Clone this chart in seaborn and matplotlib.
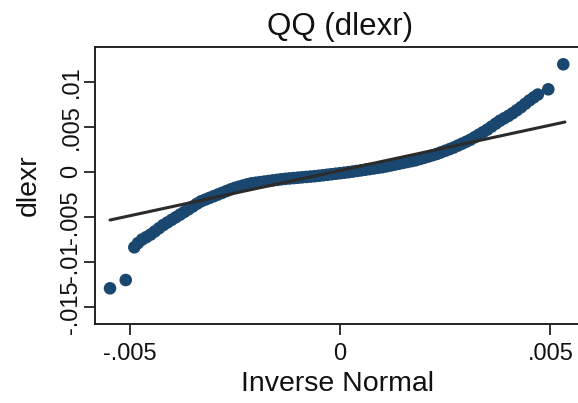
import numpy as np
import pandas as pd
import matplotlib
matplotlib.use("Agg")
import matplotlib.pyplot as plt
import seaborn as sns

# Theoretical (inverse normal) quantiles and sample quantiles of dlexr
inv_normal = [-0.005463, -0.005090, -0.004886, -0.0048, -0.0047, -0.0046, -0.0045, -0.0044,
              -0.0043, -0.0042, -0.0041, -0.0040, -0.0039, -0.0038, -0.0037, -0.0036,
              -0.0035, -0.0034, -0.0033, -0.0032, -0.0031, -0.0030, -0.0029, -0.0028,
              -0.0027, -0.0026, -0.0025, -0.0024, -0.0023, -0.0022, -0.0021, -0.0020,
              -0.0019, -0.0018, -0.0017, -0.0016, -0.0015, -0.0014, -0.0013, -0.0012,
              -0.0011, -0.0010, -0.0009, -0.0008, -0.0007, -0.0006, -0.0005, -0.0004,
              -0.0003, -0.0002, -0.0001, 0.0000, 0.0001, 0.0002, 0.0003, 0.0004,
              0.0005, 0.0006, 0.0007, 0.0008, 0.0009, 0.0010, 0.0011, 0.0012,
              0.0013, 0.0014, 0.0015, 0.0016, 0.0017, 0.0018, 0.0019, 0.0020,
              0.0021, 0.0022, 0.0023, 0.0024, 0.0025, 0.0026, 0.0027, 0.0028,
              0.0029, 0.0030, 0.0031, 0.0032, 0.0033, 0.0034, 0.0035, 0.0036,
              0.0037, 0.0038, 0.0039, 0.0040, 0.0041, 0.0042, 0.0043, 0.0044,
              0.0045, 0.0046, 0.0047, 0.004948, 0.005304]
dlexr = [-0.012956, -0.012033, -0.008400, -0.007933, -0.007531, -0.007265, -0.006987, -0.006636,
         -0.006284, -0.005933, -0.005641, -0.005351, -0.005061, -0.004767, -0.004472, -0.004177,
         -0.003873, -0.003564, -0.003286, -0.003098, -0.002910, -0.002722, -0.002534, -0.002346,
         -0.002157, -0.001969, -0.001798, -0.001664, -0.001529, -0.001394, -0.001287, -0.001224,
         -0.001161, -0.001097, -0.001034, -0.000971, -0.000908, -0.000845, -0.000791, -0.000749,
         -0.000707, -0.000665, -0.000623, -0.000581, -0.000540, -0.000498, -0.000448, -0.000392,
         -0.000336, -0.000279, -0.000223, -0.000167, -0.000111, -0.000054, 0.000011, 0.000081,
         0.000151, 0.000221, 0.000291, 0.000361, 0.000432, 0.000502, 0.000592, 0.000690,
         0.000788, 0.000886, 0.000984, 0.001082, 0.001180, 0.001278, 0.001410, 0.001550,
         0.001690, 0.001831, 0.001972, 0.002150, 0.002328, 0.002505, 0.002686, 0.002902,
         0.003117, 0.003333, 0.003556, 0.003835, 0.004115, 0.004395, 0.004682, 0.005010,
         0.005339, 0.005667, 0.005933, 0.006199, 0.006503, 0.006830, 0.007168, 0.007543,
         0.007918, 0.008247, 0.008570, 0.009156, 0.011933]

# Reference (normal) line endpoints
line_x = [-0.005463, 0.005344]
line_y = [-0.005367, 0.005522]

xtick_vals = [-0.005, 0.0, 0.005]
xtick_labels = ["-.005", "0", ".005"]
ytick_vals = [-0.015, -0.01, -0.005, 0.0, 0.005, 0.01]
ytick_labels = ["-.015", "-.01", "-.005", "0", ".005", ".01"]

sns.set_theme(style="white")
plt.rcParams["font.family"] = ["Liberation Sans", "DejaVu Sans"]

df = pd.DataFrame({"inv_normal": inv_normal, "dlexr": dlexr})
df_line = pd.DataFrame({"x": line_x, "y": line_y})

fig = plt.figure(figsize=(5.78, 4.03), dpi=100)
ax = fig.add_axes([95 / 578, 79 / 403, 490 / 578, 277 / 403])

sns.scatterplot(data=df, x="inv_normal", y="dlexr", color="#1a476f", s=82,
                edgecolor="none", linewidth=0, ax=ax, zorder=2)
sns.lineplot(data=df_line, x="x", y="y", color="#2b2b2b", linewidth=2.2, ax=ax, zorder=3)

ax.set_xlim(-0.00582, 0.00582)
ax.set_ylim(-0.01692, 0.013856)

ax.set_xticks(xtick_vals)
ax.set_xticklabels(xtick_labels, fontsize=17)
ax.set_yticks(ytick_vals)
ax.set_yticklabels(ytick_labels, fontsize=17, rotation=90, va="center")
ax.tick_params(axis="both", direction="out", length=8, width=1.3, color="#222222",
               labelcolor="#111111", bottom=True, left=True)
ax.tick_params(axis="x", pad=6)
ax.tick_params(axis="y", pad=1)

for sp in ax.spines.values():
    sp.set_color("#222222")
    sp.set_linewidth(1.4)

ax.set_xlabel("Inverse Normal", fontsize=20.5, va="center", color="#111111")
ax.xaxis.set_label_coords(0.495, -0.2166)
ax.set_ylabel("dlexr", fontsize=20.5, va="center", color="#111111")
ax.yaxis.set_label_coords(-0.135, 0.5)
ax.set_title("QQ (dlexr)", fontsize=22.5, y=1.072, pad=0, va="center", color="#111111")

fig.savefig("out.png", dpi=100)
